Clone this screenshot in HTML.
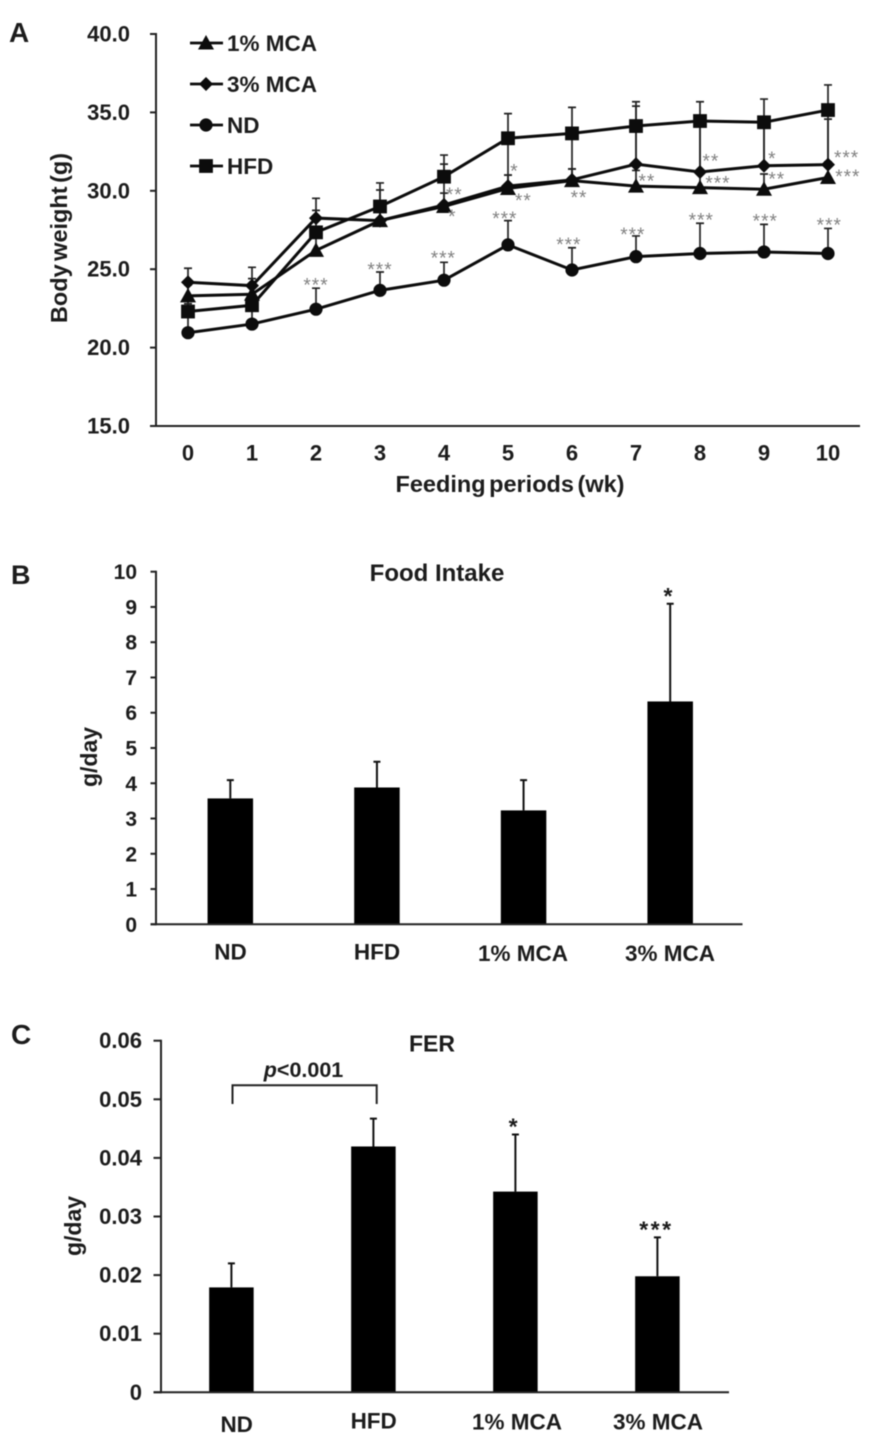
<!DOCTYPE html>
<html lang="en">
<head>
<meta charset="utf-8">
<title>Body weight, food intake and FER</title>
<style>
html,body{margin:0;padding:0;background:#fff;}
body{width:872px;height:1450px;overflow:hidden;}
svg{display:block;filter:blur(0.55px);}
text{font-family:"Liberation Sans",Arial,sans-serif;fill:#1c1c1c;}
.b{font-weight:bold;}
</style>
</head>
<body>
<svg id="fig" width="872" height="1450" viewBox="0 0 872 1450" xmlns="http://www.w3.org/2000/svg">
  <text class="b" x="9" y="42" font-size="28">A</text>
  <text class="b" x="11" y="584" font-size="27">B</text>
  <text class="b" x="11" y="1044" font-size="28">C</text>

  <g id="chartA"></g>
  <g id="chartB"></g>
  <g id="chartC"></g>

  <text class="b" font-size="23.5" text-anchor="middle" word-spacing="-3" transform="translate(67,238) rotate(-90)">Body weight (g)</text>
  <text class="b" font-size="23.5" text-anchor="middle" word-spacing="-3" x="510" y="492">Feeding periods (wk)</text>

  <text class="b" font-size="24" text-anchor="middle" x="437" y="581">Food Intake</text>
  <text class="b" font-size="23" text-anchor="middle" transform="translate(97,757) rotate(-90)">g/day</text>

  <text class="b" font-size="23" text-anchor="middle" x="432" y="1051.5">FER</text>
  <text class="b" font-size="23" text-anchor="middle" transform="translate(81,1226) rotate(-90)">g/day</text>
  <text class="b" font-size="21.5" text-anchor="middle" x="303.5" y="1077"><tspan font-style="italic">p</tspan>&lt;0.001</text>
  <path d="M232.5 1104V1085.3H376.7V1104" fill="none" stroke="#222" stroke-width="2"/>
</svg>
<script>
/* ---------- Panel A data ---------- */
const weekLabels = ["0","1","2","3","4","5","6","7","8","9","10"];
const weightTicks = [15,20,25,30,35,40];
const weightNd  = [20.95,21.5,22.45,23.65,24.3,26.55,24.95,25.8,26.0,26.1,26.0];
const weightHfd = [22.3,22.7,27.35,29.0,30.9,33.35,33.66,34.13,34.45,34.37,35.15];
const weight1   = [23.3,23.4,26.2,28.1,29.0,30.15,30.65,30.3,30.2,30.1,30.85];
const weight3   = [24.17,23.95,28.26,28.1,29.1,30.3,30.7,31.7,31.2,31.6,31.67];
const errNd  = [1.85,1.5,1.34,1.17,1.14,1.55,1.42,1.32,1.93,1.76,1.6];
const errHfd = [0.8,1.2,1.4,1.5,1.38,1.57,1.66,1.55,1.23,1.48,1.6];
const errHfdLow = [0,0,0,0,0,3.05,2.96,2.43,3.25,2.77,3.5];
const err1   = [0.7,1.0,1.0,1.95,0.85,0.85,0.74,1.0,1.0,0.97,1.0];
const err3   = [0.89,1.17,1.26,1.0,2.6,0.7,0.7,3.7,3.0,3.0,2.9];
const sigWeek  = [2,3,3.99,4.95,5.95,6.95,8.02,9.02,10.02,4.16,4.13,5.1,5.24,6.11,7.17,8.17,8.28,9.13,9.2,10.29,10.31];
const sigValue = [24.2,25.2,25.95,28.46,26.8,27.44,28.37,28.3,28.05,30.0,28.6,31.5,29.62,29.8,30.86,32.13,30.73,32.28,30.96,32.35,31.13];
const sigLabel = ["***","***","***","***","***","***","***","***","***","**","*","*","**","**","**","**","***","*","**","***","***"];

/* ---------- Panel B data ---------- */
const foodGroups = ["ND","HFD","1% MCA","3% MCA"];
const foodTicks = [0,1,2,3,4,5,6,7,8,9,10];
const foodMeans = [3.57,3.88,3.23,6.32];
const foodErrTops = [4.09,4.61,4.09,9.09];
const foodSig = ["","","","*"];

/* ---------- Panel C data ---------- */
const ferGroups = ["ND","HFD","1% MCA","3% MCA"];
const ferTicks = ["0","0.01","0.02","0.03","0.04","0.05","0.06"];
const ferMeans = [0.0179,0.04195,0.03425,0.0198];
const ferErrTops = [0.022,0.0467,0.044,0.02643];
const ferSig = ["","","*","***"];

const NS = "http://www.w3.org/2000/svg";
function add(parent, tag, attrs, txt){
  const el = document.createElementNS(NS, tag);
  for (const k in attrs) el.setAttribute(k, attrs[k]);
  if (txt !== undefined) el.textContent = txt;
  parent.appendChild(el);
  return el;
}
function named(el, name){
  
  
  return el;
}
const INK = "#0c0c0c";

/* ---------- Panel A ---------- */
(function(){
  const g = document.getElementById("chartA");
  const left = 156, right = 860, top = 34, bottom = 426;
  const x = w => left + 32 + w * (right - left) / 11;
  const y = v => bottom - (v - 15) * (bottom - top) / 25;

  weightTicks.forEach(t => {
    named(add(g,"line",{x1:150,x2:left,y1:y(t),y2:y(t),stroke:"#222","stroke-width":2}),"y-tick-"+t);
    named(add(g,"text",{x:130,y:y(t)+7.5,"text-anchor":"end","font-size":22,"font-weight":"bold"},t.toFixed(1)),"y-tick-label-"+t);
  });
  named(add(g,"line",{x1:left,x2:left,y1:top-1,y2:bottom+1,stroke:"#222","stroke-width":2}),"y-axis");
  named(add(g,"line",{x1:150,x2:right,y1:bottom,y2:bottom,stroke:"#222","stroke-width":2}),"x-axis");
  weekLabels.forEach((t,i) => {
    named(add(g,"text",{x:x(i),y:460.5,"text-anchor":"middle","font-size":22,"font-weight":"bold"},t),"x-tick-label-"+t);
  });

  function errBar(w, v, e, low, name){
    const yt = y(v + e);
    named(add(g,"path",{d:"M"+x(w)+" "+y(v - low)+"V"+yt+"M"+(x(w)-4)+" "+yt+"H"+(x(w)+4),stroke:"#222","stroke-width":1.7,fill:"none"}),name);
  }
  function marker(kind, cx, cy, name, parent){
    const p = parent || g;
    let el;
    if (kind === "circle") el = add(p,"circle",{cx:cx,cy:cy,r:6.6,fill:INK});
    if (kind === "square") el = add(p,"rect",{x:cx-6.9,y:cy-6.9,width:13.8,height:13.8,fill:INK});
    if (kind === "triangle") el = add(p,"path",{d:"M"+cx+" "+(cy-8)+"L"+(cx+8)+" "+(cy+6.5)+"H"+(cx-8)+"Z",fill:INK});
    if (kind === "diamond") el = add(p,"path",{d:"M"+cx+" "+(cy-7)+"L"+(cx+7)+" "+cy+"L"+cx+" "+(cy+7)+"L"+(cx-7)+" "+cy+"Z",fill:INK});
    named(el,name);
  }
  const series = [
    {name:"nd",  vals:weightNd,  err:errNd,  kind:"circle"},
    {name:"one-pct-mca", vals:weight1, err:err1, kind:"triangle"},
    {name:"three-pct-mca", vals:weight3, err:err3, kind:"diamond"},
    {name:"hfd", vals:weightHfd, err:errHfd, kind:"square"}
  ];
  series.forEach(s => {
    s.vals.forEach((v,i) => {
      errBar(i, v, s.err[i], s.name === "hfd" ? errHfdLow[i] : 0, s.name+"-error-bar-"+i);
    });
  });
  series.forEach(s => {
    const pts = s.vals.map((v,i) => x(i)+","+y(v)).join(" ");
    named(add(g,"polyline",{points:pts,fill:"none",stroke:INK,"stroke-width":3}),s.name+"-line");
    s.vals.forEach((v,i) => marker(s.kind, x(i), y(v), s.name+"-point-"+i));
  });
  sigWeek.forEach((w,i) => {
    named(add(g,"text",{x:x(w),y:y(sigValue[i])+10,"text-anchor":"middle","font-size":19,"letter-spacing":1,style:"fill:#808080"},sigLabel[i]),"significance-mark-"+i);
  });

  /* legend */
  const legendNames = ["1% MCA","3% MCA","ND","HFD"];
  const legendKinds = ["triangle","diamond","circle","square"];
  const legendY = [43,84,125,166];
  legendNames.forEach((t,i) => {
    const lg = named(add(g,"g",{}),"legend-entry-"+i);
    named(add(lg,"line",{x1:190,x2:223,y1:legendY[i],y2:legendY[i],stroke:INK,"stroke-width":2.8}),"legend-line-"+i);
    marker(legendKinds[i], 206, legendY[i], "legend-marker-"+i, lg);
    named(add(lg,"text",{x:227,y:legendY[i]+8,"font-size":22.5,"font-weight":"bold"},t),"legend-label-"+i);
  });
})();

/* ---------- Bar panels ---------- */
function barChart(opt){
  const g = document.getElementById(opt.id);
  const y = v => opt.bottom - v / opt.max * (opt.bottom - opt.top);
  const x = i => opt.left + (i + 0.5) * (opt.right - opt.left) / opt.cats.length + opt.dx;
  opt.ticks.forEach(t => {
    const v = parseFloat(t);
    named(add(g,"line",{x1:opt.axisStart,x2:opt.left,y1:y(v),y2:y(v),stroke:"#222","stroke-width":2}),opt.key+"-y-tick-"+t);
    named(add(g,"text",{x:opt.left-19,y:y(v)+7.5,"text-anchor":"end","font-size":opt.tickFont,"font-weight":"bold"},t),opt.key+"-y-tick-label-"+t);
  });
  opt.means.forEach((m,i) => {
    named(add(g,"path",{d:"M"+x(i)+" "+y(m)+"V"+y(opt.tops[i])+"M"+(x(i)-3.5)+" "+y(opt.tops[i])+"H"+(x(i)+3.5),stroke:"#111","stroke-width":2,fill:"none"}),opt.key+"-error-bar-"+i);
    named(add(g,"rect",{x:x(i)-opt.barW/2,y:y(m),width:opt.barW,height:opt.bottom-y(m),fill:"#000"}),opt.key+"-bar-"+i);
    if (opt.sig[i]) {
      named(add(g,"text",{x:x(i)-1,y:y(opt.tops[i])-opt.sigGap,"text-anchor":"middle","font-size":23,"font-weight":"bold","letter-spacing":2.5},opt.sig[i]),opt.key+"-significance-"+i);
    }
    named(add(g,"text",{x:opt.labelX[i],y:opt.labelY[i],"text-anchor":"middle","font-size":22.5,"font-weight":"bold"},opt.cats[i]),opt.key+"-category-label-"+i);
  });
  named(add(g,"line",{x1:opt.left,x2:opt.left,y1:opt.top-1,y2:opt.bottom+1,stroke:"#222","stroke-width":2}),opt.key+"-y-axis");
  named(add(g,"line",{x1:opt.axisStart,x2:opt.right,y1:opt.bottom,y2:opt.bottom,stroke:"#222","stroke-width":2}),opt.key+"-x-axis");
}
barChart({id:"chartB",key:"food",left:156,axisStart:150.5,right:742.5,top:571.7,bottom:924.3,max:10,dx:1,barW:45.5,tickFont:21,
  ticks:foodTicks.map(String),means:foodMeans,tops:foodErrTops,cats:foodGroups,sig:foodSig,sigGap:0,
  labelX:[230.5,377,523,670],labelY:[959.7,959.7,961,961]});
barChart({id:"chartC",key:"fer",left:161,axisStart:153.5,right:729,top:1040.7,bottom:1392.3,max:0.06,dx:-0.6,barW:44.5,tickFont:22,
  ticks:ferTicks,means:ferMeans,tops:ferErrTops,cats:ferGroups,sig:ferSig,sigGap:0,
  labelX:[236.7,373.7,517,658],labelY:[1432,1428.7,1429.7,1429.7]});
</script>
</body>
</html>
